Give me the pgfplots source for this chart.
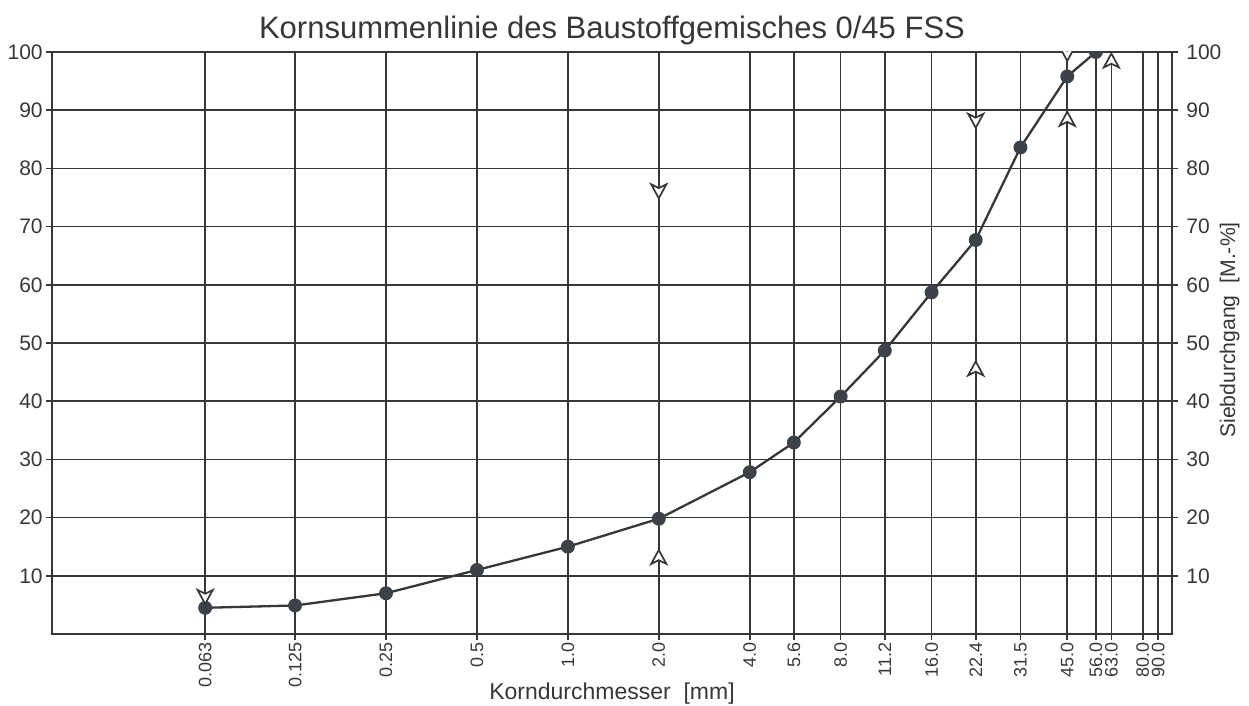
\documentclass[border=0pt]{standalone}
\usepackage{fontspec}
\setmainfont{Liberation Sans}
\usepackage{pgfplots}
\pgfplotsset{compat=1.18}
\definecolor{ink}{RGB}{55,55,55}
\definecolor{dot}{RGB}{60,66,72}
\pgfdeclareplotmark{arrup}{%
  \pgfpathmoveto{\pgfqpoint{0pt}{3.6pt}}%
  \pgfpathlineto{\pgfqpoint{3.8pt}{-3.4pt}}%
  \pgfpathlineto{\pgfqpoint{0pt}{-1.5pt}}%
  \pgfpathlineto{\pgfqpoint{-3.8pt}{-3.4pt}}%
  \pgfpathclose\pgfusepathqfillstroke}
\pgfdeclareplotmark{arrdown}{%
  \pgfpathmoveto{\pgfqpoint{0pt}{-3.6pt}}%
  \pgfpathlineto{\pgfqpoint{3.8pt}{3.4pt}}%
  \pgfpathlineto{\pgfqpoint{0pt}{1.5pt}}%
  \pgfpathlineto{\pgfqpoint{-3.8pt}{3.4pt}}%
  \pgfpathclose\pgfusepathqfillstroke}
\newcommand{\tickfont}{\fontsize{10.5}{12}\selectfont}
\newcommand{\xtickfont}{\fontsize{9}{11}\selectfont}
\begin{document}
\begin{tikzpicture}
\begin{axis}[
  name=main,
  at={(0,0)}, anchor=south west,
  scale only axis, width=560pt, height=291pt,
  xmode=log, log basis x=2,
  xmin=0.0196, xmax=100, ymin=0, ymax=100,
  xtick={0.063,0.125,0.25,0.5,1,2,4,5.6,8,11.2,16,22.4,31.5,45,56,63,80,90},
  xticklabels={0.063,0.125,0.25,0.5,1.0,2.0,4.0,5.6,8.0,11.2,16.0,22.4,31.5,45.0,56.0,63.0,80.0,90.0},
  xminorticks=false,
  ytick={10,20,30,40,50,60,70,80,90,100},
  yticklabels={10,20,30,40,50,60,70,80,90,100},
  grid=major, major grid style={ink, line width=0.8pt},
  axis line style={ink, line width=0.8pt},
  tick style={ink, line width=0.8pt},
  tick align=outside, major tick length=3pt,
  tick pos=left,
  xticklabel style={rotate=90, anchor=east, font=\xtickfont, text=ink, inner sep=1pt},
  yticklabel style={font=\tickfont, text=ink, inner sep=1.5pt},
  clip marker paths=true,
]
\addplot[color=ink, line width=1.15pt, mark=*, mark size=2.9pt,
  mark options={fill=dot, draw=dot}] coordinates {
  (0.063,4.5) (0.125,4.9) (0.25,7.0) (0.5,11.0) (1,15.0) (2,19.8)
  (4,27.8) (5.6,32.9) (8,40.8) (11.2,48.7) (16,58.7) (22.4,67.7)
  (31.5,83.6) (45,95.8) (56,100)
};
\addplot[only marks, mark=arrdown, mark options={fill=white, draw=ink, line width=0.85pt}]
  coordinates {(0.063,6.4) (2,76.1) (22.4,88.2) (45,99.7)};
\addplot[only marks, mark=arrup, mark options={fill=white, draw=ink, line width=0.85pt}]
  coordinates {(2,13.2) (22.4,45.6) (45,88.5) (63,98.5)};
\end{axis}
\begin{axis}[
  at={(0,0)}, anchor=south west,
  scale only axis, width=560pt, height=291pt,
  xmode=log, xmin=0.0196, xmax=100, ymin=0, ymax=100,
  axis x line=none, axis y line*=right,
  ytick={10,20,30,40,50,60,70,80,90,100},
  yticklabels={10,20,30,40,50,60,70,80,90,100},
  axis line style={ink, line width=0.8pt},
  tick style={ink, line width=0.8pt},
  tick align=outside, major tick length=3pt,
  yticklabel style={font=\tickfont, text=ink, inner sep=1.5pt, xshift=2.5pt},
]
\end{axis}
\node[anchor=base, text=ink, font=\fontsize{15.5}{18}\selectfont] at (280pt,297.5pt) {Kornsummenlinie des Baustoffgemisches 0/45 FSS};
\node[anchor=base, text=ink, font=\fontsize{11.5}{13}\selectfont] at (280pt,-32.75pt) {Korndurchmesser\ \ [mm]};
\node[anchor=base, rotate=90, text=ink, font=\fontsize{10.6}{12}\selectfont] at (591.5pt,152pt) {Siebdurchgang\ \ [M.-\%]};
\pgfresetboundingbox
\useasboundingbox (-26pt,-35.75pt) rectangle (598.5pt,317pt);
\end{tikzpicture}
\end{document}
